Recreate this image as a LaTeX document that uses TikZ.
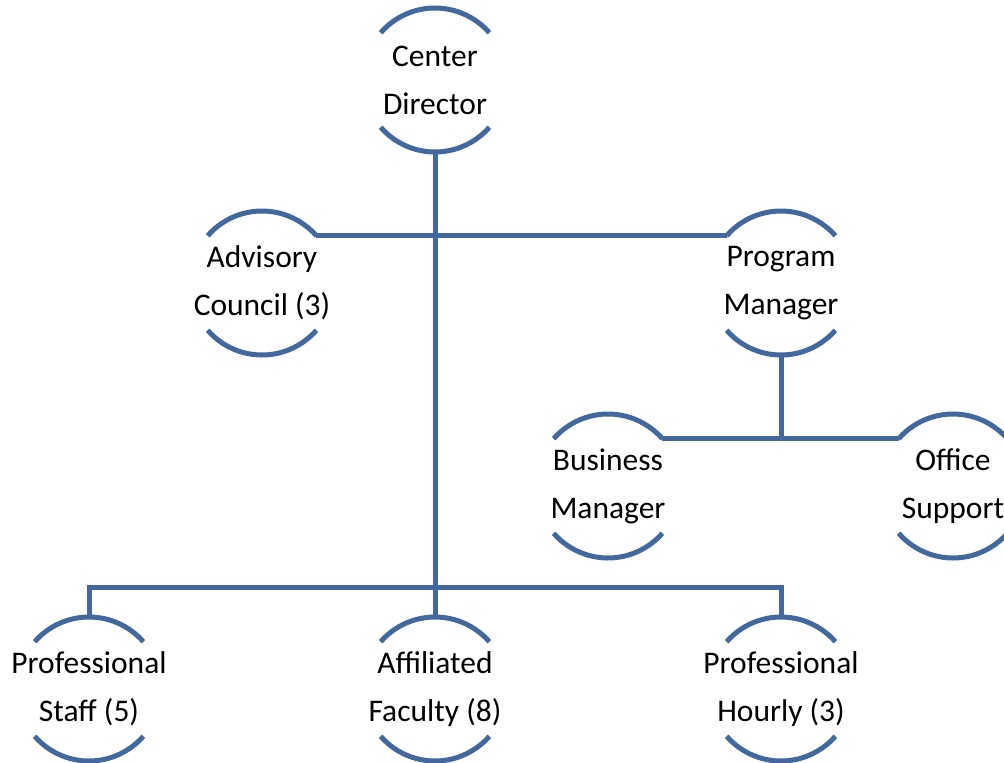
\documentclass[tikz,border=0pt]{standalone}
\usepackage{fontspec}
\setmainfont{Carlito}
\usetikzlibrary{positioning}
\definecolor{orgblue}{RGB}{66,104,157}
\tikzstyle{unit} = [circle, minimum size=144pt, inner sep=0pt, outer sep=0pt]
\tikzstyle{caption} = [align=center, inner sep=0pt, font=\fontsize{31.5}{48}\selectfont]
\tikzstyle{link} = [line width=5pt, draw=orgblue]

\begin{document}
\begin{tikzpicture}[x=1pt, y=1pt]
  \useasboundingbox (0,0) rectangle (1004,-763);
  \clip (0,0) rectangle (1004,-763);
  \node (cd) [unit, label={[caption]center:Center\\Director}] at (435,-80) {};
  \node (ac) [unit, label={[caption]center:Advisory\\Council (3)}] at (262,-283) {};
  \node (pm) [unit, label={[caption]center:Program\\Manager}] at (781,-283) {};
  \node (bm) [unit, label={[caption]center:Business\\Manager}] at (608,-486) {};
  \node (os) [unit, label={[caption]center:Office\\Support}] at (953,-486) {};
  \node (ps) [unit, label={[caption]center:Professional\\Staff (5)}] at (89,-689) {};
  \node (af) [unit, label={[caption]center:Affiliated\\Faculty (8)}] at (435,-689) {};
  \node (ph) [unit, label={[caption]center:Professional\\Hourly (3)}] at (781,-689) {};
  % open circles: top and bottom arcs only
  \foreach \nm in {cd,ac,pm,bm,os,ps,af,ph} {
    \draw [link] (\nm.139) arc (139:41:72pt);
    \draw [link] (\nm.221) arc (221:319:72pt);
  }
  \draw [link] (cd.south) -- (af.north);
  \draw [link] (ac.41) -- (pm.139);
  \draw [link] (pm.south) -- (pm.south |- bm.41);
  \draw [link] (bm.41) -- (os.139);
  \draw [link] (ps.north) -- ++(0,30) -| (ph.north);
\end{tikzpicture}
\end{document}
